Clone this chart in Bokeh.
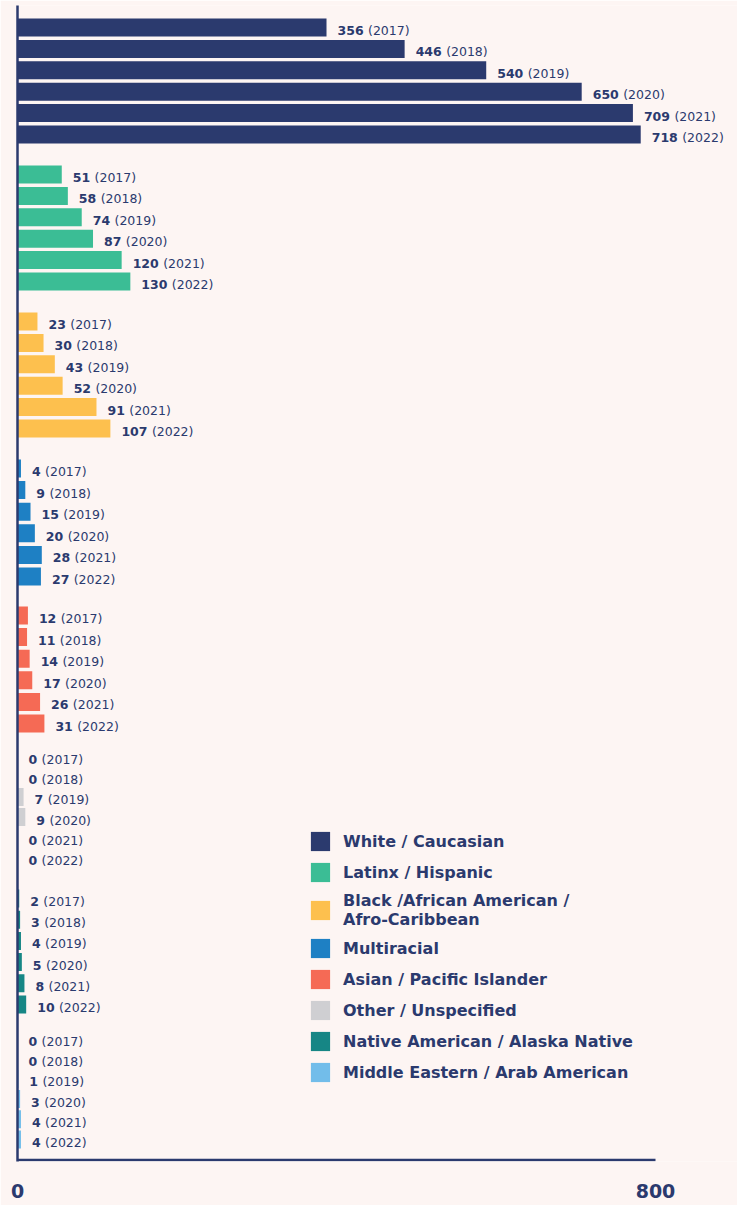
from bokeh.plotting import figure
from bokeh.models import Range1d, LinearAxis, FixedTicker, ColumnDataSource, Legend, LegendItem
from bokeh.core.properties import value
from bokeh.embed import file_html
from bokeh.resources import INLINE

# ---------------- data ----------------
groups = [
    "White / Caucasian",
    "Latinx / Hispanic",
    "Black /African American /\nAfro-Caribbean",
    "Multiracial",
    "Asian / Pacific Islander",
    "Other / Unspecified",
    "Native American / Alaska Native",
    "Middle Eastern / Arab American",
]
years = ["2017", "2018", "2019", "2020", "2021", "2022"]
white = [356, 446, 540, 650, 709, 718]
latinx = [51, 58, 74, 87, 120, 130]
black = [23, 30, 43, 52, 91, 107]
multiracial = [4, 9, 15, 20, 28, 27]
asian = [12, 11, 14, 17, 26, 31]
other = [0, 0, 7, 9, 0, 0]
native = [2, 3, 4, 5, 8, 10]
mideast = [0, 0, 1, 3, 4, 4]
axis_ticks = [0, 800]

series = [white, latinx, black, multiracial, asian, other, native, mideast]

# ---------------- style / layout ----------------
NAVY = "#2b3a6e"
BG = "#fdf5f3"
colors = ["#2b3a6e", "#3bbd95", "#fdc04e", "#1e80c4", "#f56a55",
          "#cfcfd2", "#168685", "#72bdea"]
FONT = "DejaVu Sans"

W, H = 737, 1205
LEFT = 17
TOP = 5
BOTTOM = 1161
# vertical layout of the groups (screen px: group middle and row pitch)
GROUP_MID = [80.5, 227.5, 374.5, 522, 669, 806.5, 951, 1088.5]
GROUP_ROW_PITCH = [21.4, 21.4, 21.4, 21.6, 21.6, 20.2, 21.2, 20.2]
BAR_H = 18
DIGIT_W = 8.7
SPACE_W = 4.4
LABEL_GAP = 11
PX_PER_UNIT = 0.868
AXIS_PX = 638  # pixel length of the drawn 0..800 axis

frame_w = W - LEFT
p = figure(
    width=W, height=H,
    x_range=Range1d(0, frame_w / PX_PER_UNIT), y_range=Range1d(BOTTOM, TOP),
    x_axis_location=None, y_axis_location=None,
    toolbar_location=None, output_backend="svg",
    min_border_left=LEFT, min_border_right=0, min_border_top=TOP,
    min_border_bottom=H - BOTTOM,
    background_fill_color=BG, border_fill_color=BG,
)
p.outline_line_color = None
p.grid.visible = False
p.extra_x_ranges = {"ax": Range1d(0, frame_w * axis_ticks[-1] / AXIS_PX)}

# left axis line
left_axis = LinearAxis(ticker=FixedTicker(ticks=[]), axis_line_color=NAVY,
                       axis_line_width=2.5, major_tick_out=0, major_tick_in=0,
                       minor_tick_out=0, minor_tick_in=0,
                       major_label_standoff=0, major_label_text_font_size="0px")
p.add_layout(left_axis, "left")

# bottom axis (labels only; line drawn from 0 to the 800 tick)
bottom_axis = LinearAxis(x_range_name="ax", ticker=FixedTicker(ticks=axis_ticks),
                         axis_line_color=None, major_tick_line_color=None,
                         minor_tick_line_color=None, major_tick_out=0, major_tick_in=0,
                         major_label_standoff=22,
                         major_label_text_font=FONT, major_label_text_font_size="19px",
                         major_label_text_font_style="bold",
                         major_label_text_color=NAVY)
p.add_layout(bottom_axis, "below")
p.segment(x0=[axis_ticks[0]], x1=[axis_ticks[-1]], y0=[BOTTOM - 1.5], y1=[BOTTOM - 1.5],
          x_range_name="ax", line_color=NAVY, line_width=2.5)

bar_renderers = []
for g, vals in enumerate(series):
    n = len(vals)
    ys = [GROUP_MID[g] + (i - (n - 1) / 2) * GROUP_ROW_PITCH[g] for i in range(n)]
    nums = [str(v) for v in vals]
    yrs = ["(" + y + ")" for y in years]
    yoff = [LABEL_GAP + len(s) * DIGIT_W + SPACE_W for s in nums]
    src = ColumnDataSource(dict(y=ys, v=vals, num=nums, yr=yrs, yoff=yoff))
    r = p.hbar(y="y", left=0, right="v", height=BAR_H, source=src,
               fill_color=colors[g], line_color=None)
    bar_renderers.append(r)
    p.text(x="v", y="y", text="num", source=src, x_offset=LABEL_GAP, y_offset=3,
           text_font=value(FONT), text_font_style="bold", text_font_size="12.5px",
           text_color=NAVY, text_baseline="middle", text_align="left")
    p.text(x="v", y="y", text="yr", source=src, x_offset="yoff", y_offset=3,
           text_font=value(FONT), text_font_style="normal", text_font_size="12.5px",
           text_color=NAVY, text_baseline="middle", text_align="left")

legend = Legend(
    items=[LegendItem(label=value(groups[g]), renderers=[bar_renderers[g]])
           for g in range(len(groups))],
    location=(291, 77), orientation="vertical",
    glyph_width=24, glyph_height=24, label_standoff=11, spacing=7,
    padding=0, margin=0, border_line_color=None, background_fill_alpha=0,
    label_text_font=FONT, label_text_font_size="16px", label_text_font_style="bold",
    label_text_color=NAVY, label_height=19,
)
p.add_layout(legend)

open("out.html", "w").write(file_html(p, INLINE))
